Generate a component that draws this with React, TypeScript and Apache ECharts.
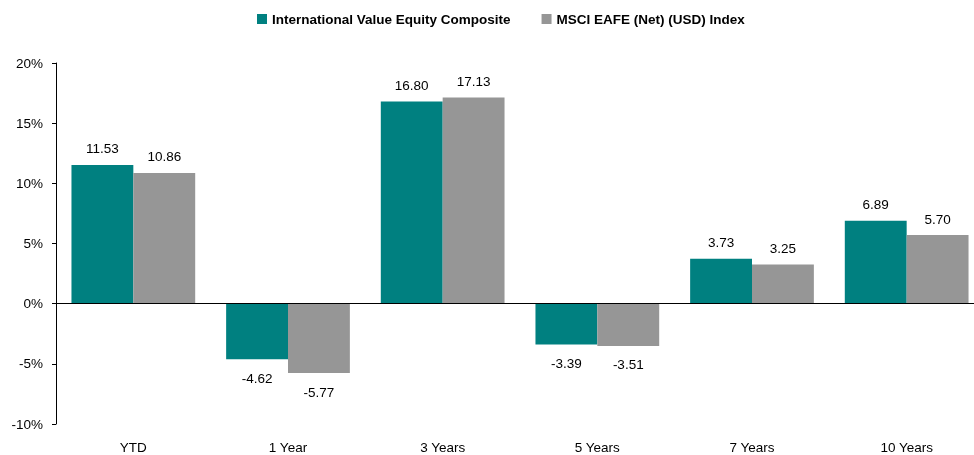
import React, { useEffect, useRef } from "react";
import * as echarts from "echarts";

const categories = ["YTD", "1 Year", "3 Years", "5 Years", "7 Years", "10 Years"];
const composite = [11.53, -4.62, 16.8, -3.39, 3.73, 6.89];
const msci = [10.86, -5.77, 17.13, -3.51, 3.25, 5.7];
const seriesNames = ["International Value Equity Composite", "MSCI EAFE (Net) (USD) Index"];

export default function App() {
  const ref = useRef<HTMLDivElement>(null);
  useEffect(() => {
    const chart = echarts.init(ref.current!, null, { renderer: "svg" });
    const font = "'Liberation Sans', Arial, sans-serif";
    const labelCfg = {
      show: true,
      formatter: (p: any) => p.value.toFixed(2),
      fontFamily: font,
      fontSize: 13.5,
      color: "#000",
    };
    const mkData = (arr: number[]) =>
      arr.map((v) => ({
        value: v,
        label: v >= 0 ? { position: "top", distance: 9 } : { position: "bottom", distance: 12 },
      }));
    chart.setOption({
      animation: false,
      legend: {
        top: 7,
        left: 252,
        itemWidth: 10,
        itemHeight: 10,
        itemGap: 31,
        icon: "rect",
        textStyle: { fontFamily: font, fontSize: 13.5, fontWeight: "bold", color: "#000" },
        data: seriesNames,
      },
      grid: { left: 56, right: 6, top: 63, bottom: 31, containLabel: false },
      xAxis: {
        type: "category",
        data: categories,
        axisLine: { show: false },
        axisTick: { show: false },
        axisLabel: { fontFamily: font, fontSize: 13.5, color: "#000", margin: 16 },
      },
      yAxis: {
        type: "value",
        min: -10,
        max: 20,
        interval: 5,
        axisLine: { show: true, lineStyle: { color: "#000", width: 1 } },
        axisTick: { show: true, length: 4, lineStyle: { color: "#000" } },
        splitLine: { show: false },
        axisLabel: {
          formatter: "{value}%",
          fontFamily: font,
          fontSize: 13.5,
          color: "#000",
          margin: 13,
        },
      },
      series: [
        {
          name: seriesNames[0],
          type: "bar",
          data: mkData(composite),
          itemStyle: { color: "#008080" },
          barWidth: "40%",
          barGap: "0%",
          label: labelCfg,
          markLine: {
            silent: true,
            symbol: "none",
            label: { show: false },
            lineStyle: { color: "#000", width: 1, type: "solid" },
            data: [{ yAxis: 0 }],
          },
        },
        {
          name: seriesNames[1],
          type: "bar",
          data: mkData(msci),
          itemStyle: { color: "#969696" },
          barWidth: "40%",
          barGap: "0%",
          label: labelCfg,
        },
      ],
    });
    return () => chart.dispose();
  }, []);
  return (
    <div
      ref={ref}
      style={{ position: "fixed", left: 0, top: 0, width: 990, height: 455 }}
    />
  );
}
